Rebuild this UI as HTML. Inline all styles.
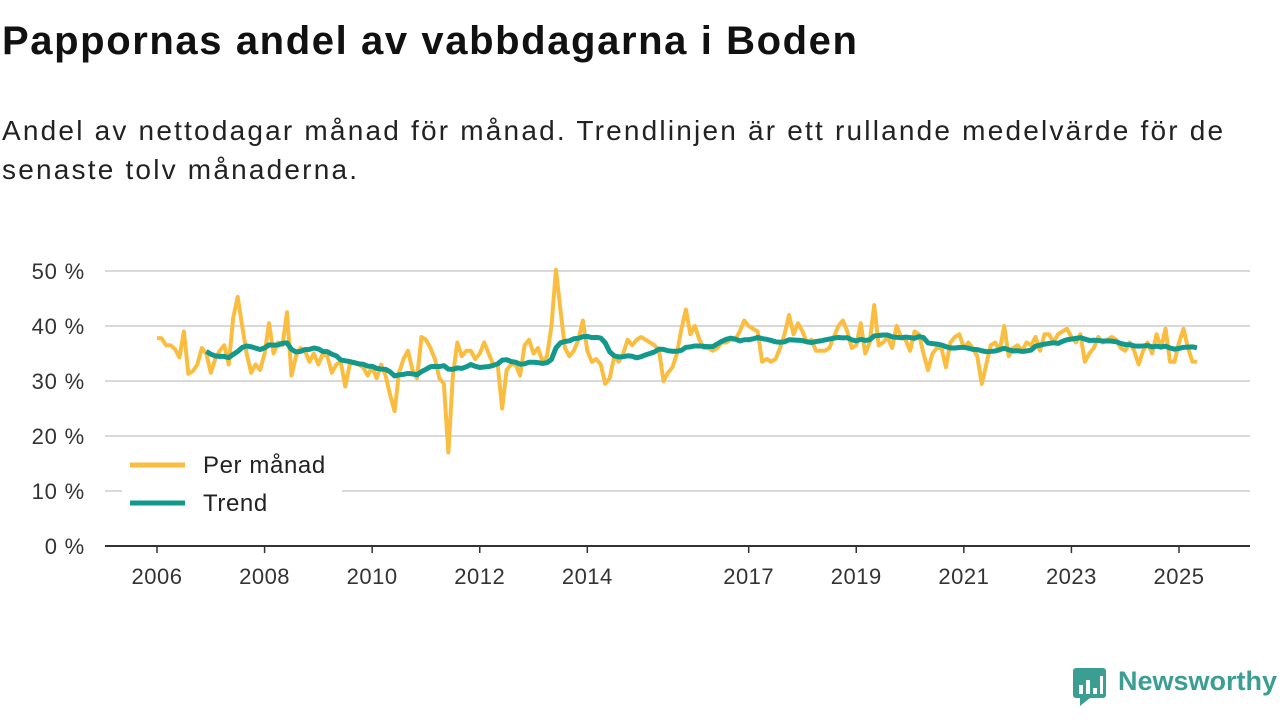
<!DOCTYPE html>
<html><head><meta charset="utf-8"><style>
body{margin:0;width:1280px;height:720px;background:#fff;font-family:"Liberation Sans",sans-serif;overflow:hidden;position:relative}
h1{position:absolute;left:2px;top:19px;margin:0;font-size:40px;letter-spacing:1.6px;font-weight:bold;color:#111}
p{position:absolute;left:2px;top:111px;margin:0;font-size:28px;letter-spacing:2.2px;line-height:39px;color:#222;z-index:2}
svg{position:absolute;left:0;top:0}
.logo{position:absolute;left:1118px;top:666px;font-size:27px;font-weight:bold;color:#3a9e93}
</style></head><body>
<h1>Pappornas andel av vabbdagarna i Boden</h1>
<p>Andel av nettodagar månad för månad. Trendlinjen är ett rullande medelvärde för de<br>senaste tolv månaderna.</p>
<svg id="c" width="1280" height="720"></svg>
<svg width="1280" height="720" style="pointer-events:none">
<rect x="1073" y="668" width="33" height="30" rx="3" fill="#3a9e93"/><polygon points="1080,698 1090,698 1080,706" fill="#3a9e93"/>
<rect x="1079" y="685" width="4" height="9" fill="#fff"/><rect x="1086" y="680" width="4" height="14" fill="#fff"/><rect x="1093" y="688" width="4" height="6" fill="#fff"/><rect x="1100" y="676" width="3" height="18" fill="#fff"/>
</svg>
<div class="logo">Newsworthy</div>
<script>
const yTicks=[0,10,20,30,40,50];
const xLabels=[2006,2008,2010,2012,2014,2017,2019,2021,2023,2025];
const startYear=2006;
const monthly=[
37.8,37.8,36.5,36.5,35.8,34.3,39,31.3,31.8,33,36,35,
31.5,34,35.5,36.5,33,41.5,45.3,40,35,31.5,33,32,
35,40.5,35,37,36.5,42.5,31,34.5,36,35.5,33.5,35,
33,35,34.5,31.5,33,33.5,29,33,33.5,33,32.5,31,
32.5,30.5,33,31,27.5,24.5,31.5,34,35.5,32,30.5,38,
37.5,36,34,30.5,29.5,17,31,37,34.5,35.5,35.5,34,
35,37,35,33,33,25,32,33,33,31,36.5,37.5,
35,36,33.5,34.5,40,50.2,43,36,34.5,35.5,37.5,41,
35.5,33.5,34,33,29.5,30.5,34.5,33.5,35,37.5,36.5,37.5,
38,37.5,37,36.5,35.5,30,31.5,32.5,35,39.5,43,38.5,
40,37.5,36,36,35.5,36,37,37,37.5,37.5,39,41,
40,39.5,39,33.5,34,33.5,34,36,38.5,42,38.5,40.5,
39,37,37.5,35.5,35.5,35.5,36,38,40,41,39,36,
36.5,40.5,35,37,43.8,36.5,37,38,36,40,38,37.5,
35.5,39,38.5,35,32,35,36,36,32.5,37,38,38.5,
36,37,36,34.5,29.5,33,36.5,37,35.5,40,34.5,36,
36.5,35.5,37,36.5,38,35.5,38.5,38.5,37,38.5,39,39.5,
38,37,38.5,33.5,35,36,38,37,37.5,38,37.5,36,
35.5,37,35.5,33,35.5,37,35,38.5,36,39.5,33.5,33.5,
37,39.5,36,33.5,33.5];
const NS="http://www.w3.org/2000/svg";
const svg=document.getElementById('c');
const X=i=>157+i*(1179-157)/(19*12);
const Y=v=>546-v*5.5;
function el(t,a){const e=document.createElementNS(NS,t);for(const k in a)e.setAttribute(k,a[k]);svg.appendChild(e);return e;}
yTicks.forEach(v=>{
 if(v>0){const g=el('line',{x1:105,x2:1250,y1:Y(v),y2:Y(v),stroke:'#d9d9d9','stroke-width':2});
 
 }
 const t=el('text',{x:85,y:Y(v)+8,'text-anchor':'end','font-size':22,'letter-spacing':0.8,fill:'#333','font-family':'Liberation Sans, sans-serif'});
 t.textContent=v+' %';
 
 
});
const ax=el('line',{x1:105,x2:1250,y1:546,y2:546,stroke:'#333','stroke-width':2});


xLabels.forEach(yr=>{
 const x=X((yr-startYear)*12);
 const tk=el('line',{x1:x,x2:x,y1:546,y2:553,stroke:'#333','stroke-width':1.5});
 
 
 const t=el('text',{x:x,y:584,'text-anchor':'middle','font-size':22,'letter-spacing':0.5,fill:'#333','font-family':'Liberation Sans, sans-serif'});
 t.textContent=yr;
 
 
});
const mp=el('polyline',{points:monthly.map((v,i)=>X(i)+','+Y(v)).join(' '),fill:'none',stroke:'#fbbd3f','stroke-width':4,'stroke-linejoin':'round'});


const trend=[];
for(let i=11;i<monthly.length;i++){let s=0;for(let j=i-11;j<=i;j++)s+=monthly[j];trend.push([i,s/12]);}
const tp=el('polyline',{points:trend.map(([i,v])=>X(i)+','+Y(v)).join(' '),fill:'none',stroke:'#13998c','stroke-width':5,'stroke-linejoin':'round'});


const lb=el('rect',{x:122,y:445,width:220,height:75,fill:'#fff'});


[['Per månad','#fbbd3f',465],['Trend','#13998c',503]].forEach(([n,c,y])=>{
 const l=el('line',{x1:130,x2:185,y1:y,y2:y,stroke:c,'stroke-width':5});
 
 
 const t=el('text',{x:203,y:y+8,'font-size':24,'letter-spacing':0.6,fill:'#222','font-family':'Liberation Sans, sans-serif'});
 t.textContent=n;
 
 
});
</script>
</body></html>
